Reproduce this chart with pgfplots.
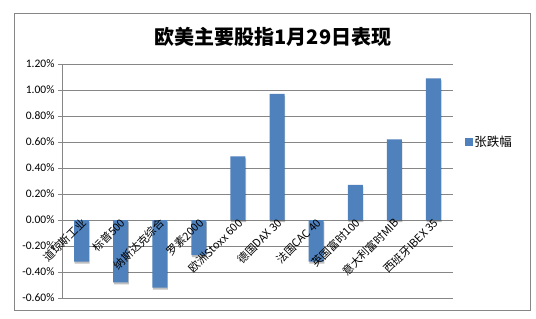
\documentclass[border=0pt]{standalone}
\usepackage{pgfplots}
\pgfplotsset{compat=1.18}
\usepackage{fontspec}
\setmainfont{Carlito}
\newfontfamily\cjk{Noto Sans CJK SC}
\definecolor{barblue}{HTML}{4F81BD}
\definecolor{gridgray}{HTML}{868686}
\pgfplotsset{
  base/.style={
    at={(62bp,20bp)}, anchor=south west,
    scale only axis, width=391bp, height=234bp,
    xmin=-0.5, xmax=9.5, ymin=-0.6, ymax=1.2,
  },
}
\begin{document}
\begin{tikzpicture}[x=1bp,y=1bp]
\fill[white] (0,0) rectangle (536,318);
\draw[gridgray, line width=0.9bp] (14,8) rectangle (530,305);
\node[font=\cjk\bfseries\fontsize{20bp}{22bp}\selectfont] at (273,281) {欧美主要股指1月29日表现};
\begin{axis}[
  base,
  axis y line=left, axis x line=middle,
  axis line style={-, gridgray, line width=0.8bp},
  ytick={-0.6,-0.4,...,1.21},
  ymajorgrids, grid style={gridgray, line width=0.6bp},
  major tick length=4bp,
  ytick style={gridgray}, tick align=outside,
  yticklabel={\pgfmathprintnumber[fixed,fixed zerofill,precision=2]{\tick}\%},
  /pgf/number format/assume math mode=true,
  yticklabel style={font=\fontsize{11.5bp}{13bp}\selectfont, black},
  xtick={0,...,9}, xticklabels={},
  x tick style={draw=none},
  minor xtick={-0.5,0.5,...,9.5},
  minor tick length=6bp,
  minor x tick style={gridgray, line width=0.6bp},
  legend style={at={(1.03,0.667)}, anchor=west, draw=none, fill=none, font=\cjk\fontsize{12.5bp}{14bp}\selectfont, inner sep=0pt},
  clip=false,
]
\addplot[ybar, bar width=15bp, fill=barblue, draw=none, forget plot,
  preaction={fill=black, opacity=0.25, transform canvas={xshift=0.6bp, yshift=-2bp}}] coordinates {
(0,-0.32) (1,-0.48) (2,-0.52) (3,-0.27) (4,0.49) (5,0.97) (6,-0.32) (7,0.27) (8,0.62) (9,1.09)};
\addlegendimage{legend image code/.code={\fill[barblue] (0bp,-3.5bp) rectangle (7bp,3.5bp);}}
\addlegendentry{张跌幅}
\end{axis}
\begin{axis}[
  base,
  axis y line=none, axis x line=middle,
  x axis line style={draw=none},
  ytick=\empty,
  xtick={0,...,9},
  x tick style={draw=none},
  xticklabels={道琼斯工业,标普500,纳斯达克综合,罗素2000,欧洲Stoxx 600,德国DAX 30,法国CAC 40,英国富时100,意大利富时MIB,西班牙IBEX 35},
  xticklabel style={rotate=45, anchor=east, font=\cjk\fontsize{11bp}{13bp}\selectfont, inner sep=1bp, xshift=4bp, yshift=-1bp},
]
\end{axis}
\end{tikzpicture}
\end{document}
